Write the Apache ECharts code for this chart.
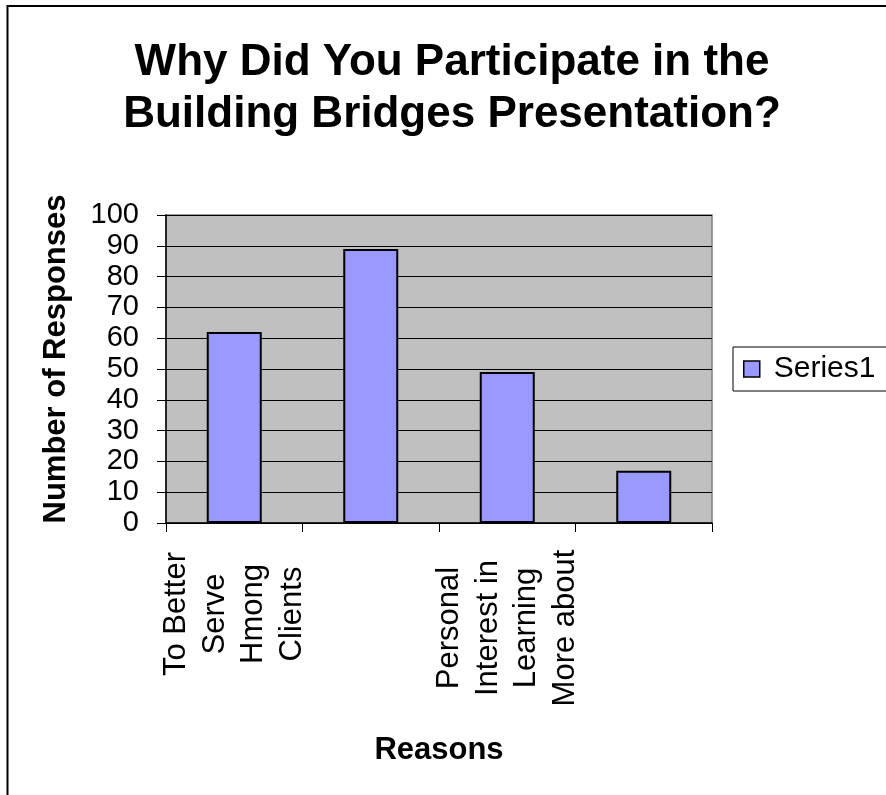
<!DOCTYPE html>
<html>
<head>
<meta charset="utf-8">
<title>Why Did You Participate</title>
<script src="https://cdn.jsdelivr.net/npm/echarts@6/dist/echarts.min.js"></script>
<style>
  html, body { margin: 0; padding: 0; background: #fff; }
  #chart { width: 886px; height: 795px; }
</style>
</head>
<body>
<div id="chart"></div>
<script>
// categories (2nd and 4th label are hidden in the original, names not readable)
var reasons = ['To Better\nServe\nHmong\nClients', '', 'Personal\nInterest in\nLearning\nMore about', ''];
var responses = [62, 89, 49, 17];
var yTicks = { min: 0, max: 100, step: 10 };
var seriesName = 'Series1';

var font = '"Liberation Sans", Arial, sans-serif';

var categoryData = reasons.map(function (name, i) {
  // third label sits a bit lower than the first one
  if (i === 2) {
    return {
      value: name,
      textStyle: { align: 'center', verticalAlign: 'middle', padding: [0, 28, 0, 0] }
    };
  }
  return name;
});

var chart = echarts.init(document.getElementById('chart'));

var option = {
  animation: false,
  backgroundColor: '#fff',
  textStyle: { fontFamily: font },
  title: {
    text: 'Why Did You Participate in the\nBuilding Bridges Presentation?',
    left: 447,
    textAlign: 'center',
    top: 32,
    textStyle: {
      fontFamily: font,
      fontSize: 44,
      fontWeight: 'bold',
      lineHeight: 52,
      color: '#000'
    }
  },
  legend: {
    data: [seriesName],
    left: 733,
    top: 347,
    orient: 'vertical',
    icon: 'rect',
    itemWidth: 16,
    itemHeight: 16,
    borderColor: '#000',
    borderWidth: 1,
    padding: [7, 40, 7, 10],
    itemStyle: { color: '#9999ff', borderColor: '#000', borderWidth: 1.5 },
    textStyle: { fontFamily: font, fontSize: 30, color: '#000', padding: [0, 0, 0, 9] }
  },
  grid: {
    left: 166,
    right: 174,
    top: 215,
    bottom: 272,
    outerBoundsMode: 'none',
    containLabel: false,
    show: true,
    backgroundColor: '#c0c0c0',
    borderColor: '#808080',
    borderWidth: 1.5
  },
  xAxis: {
    type: 'category',
    data: categoryData,
    name: 'Reasons',
    nameLocation: 'middle',
    nameGap: 212,
    nameTextStyle: { fontFamily: font, fontSize: 31, fontWeight: 'bold', color: '#000' },
    axisLine: { lineStyle: { color: '#000', width: 1.5 } },
    axisTick: { show: true, interval: 0, length: 9, lineStyle: { color: '#000', width: 1 } },
    axisLabel: {
      interval: 1,
      rotate: 90,
      align: 'center',
      verticalAlign: 'middle',
      margin: 91,
      hideOverlap: false,
      fontFamily: font,
      fontSize: 31,
      lineHeight: 38.5,
      color: '#000'
    },
    splitLine: { show: false }
  },
  yAxis: {
    type: 'value',
    min: yTicks.min,
    max: yTicks.max,
    interval: yTicks.step,
    name: 'Number of Responses',
    nameLocation: 'middle',
    nameGap: 94,
    nameTextStyle: {
      fontFamily: font,
      fontSize: 31,
      fontWeight: 'bold',
      color: '#000',
      padding: [0, 0, 0, 20]
    },
    axisLine: { show: true, lineStyle: { color: '#000', width: 1.5 } },
    axisTick: { show: true, length: 9, lineStyle: { color: '#000', width: 1 } },
    axisLabel: {
      fontFamily: font,
      fontSize: 29,
      color: '#000',
      margin: 27,
      showMinLabel: true,
      showMaxLabel: true,
      hideOverlap: false
    },
    splitLine: { show: true, lineStyle: { color: '#000', width: 1 } }
  },
  series: [{
    name: seriesName,
    type: 'bar',
    data: responses,
    barWidth: 55,
    itemStyle: { color: '#9999ff', borderColor: '#000', borderWidth: 2 }
  }],
  graphic: [{
    type: 'rect',
    shape: { x: 7.5, y: 6, width: 1000, height: 1000 },
    style: { fill: 'none', stroke: '#000', lineWidth: 2 },
    silent: true
  }]
};

chart.setOption(option);
</script>
</body>
</html>
